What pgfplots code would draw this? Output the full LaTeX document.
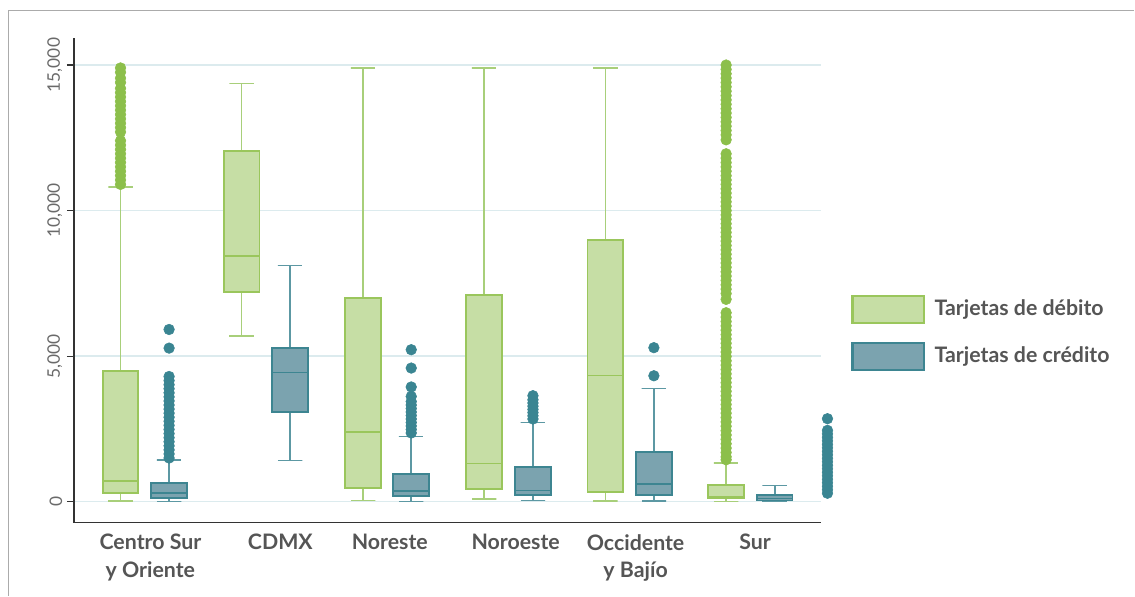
\documentclass[border=0pt]{standalone}
\usepackage{fontspec}
\setmainfont{Lato}
\usepackage{pgfplots}
\pgfplotsset{compat=1.18}

\definecolor{debfill}{HTML}{C6DEA5}
\definecolor{debline}{HTML}{9AC65C}
\definecolor{debwhisk}{HTML}{A8CF7A}
\definecolor{debdot}{HTML}{8CBF4B}
\definecolor{crefill}{HTML}{7BA3AF}
\definecolor{creline}{HTML}{3D8591}
\definecolor{crewhisk}{HTML}{5C98A3}
\definecolor{credot}{HTML}{3A8592}
\definecolor{gridc}{HTML}{DCEBEE}
\definecolor{labgray}{HTML}{555555}
\definecolor{tickgray}{HTML}{6A6A6A}
\definecolor{framegray}{HTML}{ABABAB}
\definecolor{axisc}{HTML}{333333}

\pgfplotsset{
  dw/.style={draw=debwhisk, line width=1.2pt, mark=none},
  db/.style={draw=debline, fill=debfill, line width=1.4pt, mark=none},
  dm/.style={draw=debline, line width=1pt, mark=none},
  dd/.style={only marks, mark=*, mark size=4pt, mark options={draw=debdot, fill=debdot, line width=0.4pt}},
  cw/.style={draw=crewhisk, line width=1.2pt, mark=none},
  cb/.style={draw=creline, fill=crefill, line width=1.4pt, mark=none},
  cm/.style={draw=creline, line width=1pt, mark=none},
  cd/.style={only marks, mark=*, mark size=4pt, mark options={draw=credot, fill=credot, line width=0.4pt}},
}

\begin{document}
\begin{tikzpicture}
\begin{scope}[x=0.75pt, y=0.75pt]
\path (0,0) rectangle (1135,596);
% outer frame (top and left edges)
\draw[framegray, line width=1.1pt] (8.5,0) -- (8.5,585.5) -- (1135,585.5);
\end{scope}

\begin{axis}[
  at={(55.5pt,54.75pt)}, anchor=south west,
  scale only axis, width=561pt, height=363.75pt,
  xmin=74, xmax=822, ymin=-721, ymax=15929,
  clip=false,
  axis x line*=bottom, axis y line*=left,
  axis line style={-, draw=axisc, line width=1.1pt},
  xtick={150.5,280.5,390,516,636,755.5},
  xticklabels={{Centro Sur\\y Oriente},{CDMX},{Noreste},{Noroeste},{Occidente\\y Bajío},{Sur}},
  xticklabel style={font=\fontsize{16}{20.5}\selectfont\bfseries, text=labgray, align=center},
  x tick style={draw=none},
  ytick={0,5000,10000,15000},
  scaled y ticks=false,
  yticklabel style={font=\fontsize{13}{15}\selectfont, text=tickgray, rotate=90, anchor=south},
  /pgf/number format/.cd, 1000 sep={,}, assume math mode=true, /pgfplots/.cd,
  tick align=outside, major tick length=5.25pt,
  y tick style={draw=axisc, line width=0.8pt},
  ymajorgrids, grid style={draw=gridc, line width=1.1pt},
]

% ---- Centro Sur y Oriente: debit (120.6) ----
\addplot[dw] coordinates {(108.35,20) (132.85,20) (120.6,20) (120.6,10810) (108.35,10810) (132.85,10810)};
\addplot[db] coordinates {(102.75,290) (138.45,290) (138.45,4500) (102.75,4500)} -- cycle;
\addplot[dm] coordinates {(102.75,710) (138.45,710)};
\addplot[dd] coordinates {(120.6,10900) (120.6,11050) (120.6,11200) (120.6,11350) (120.6,11500) (120.6,11650) (120.6,11800) (120.6,11950) (120.6,12100) (120.6,12250) (120.6,12400) (120.6,12700) (120.6,12850) (120.6,13000) (120.6,13150) (120.6,13300) (120.6,13450) (120.6,13600) (120.6,13750) (120.6,13900) (120.6,14050) (120.6,14200) (120.6,14400) (120.6,14550) (120.6,14750) (120.6,14900)};
% credit (169.2)
\addplot[cw] coordinates {(156.95,10) (181.45,10) (169.2,10) (169.2,1440) (156.95,1440) (181.45,1440)};
\addplot[cb] coordinates {(151.35,130) (187.05,130) (187.05,640) (151.35,640)} -- cycle;
\addplot[cm] coordinates {(151.35,300) (187.05,300)};
\addplot[cd] coordinates {(169.2,1500) (169.2,1640) (169.2,1780) (169.2,1920) (169.2,2060) (169.2,2200) (169.2,2340) (169.2,2480) (169.2,2620) (169.2,2760) (169.2,2900) (169.2,3040) (169.2,3180) (169.2,3320) (169.2,3460) (169.2,3600) (169.2,3740) (169.2,3880) (169.2,4020) (169.2,4160) (169.2,4300) (169.2,5275) (169.2,5915)};

% ---- CDMX ----
\addplot[dw] coordinates {(229.55,5700) (254.05,5700) (241.8,5700) (241.8,14370) (229.55,14370) (254.05,14370)};
\addplot[db] coordinates {(223.95,7190) (259.65,7190) (259.65,12060) (223.95,12060)} -- cycle;
\addplot[dm] coordinates {(223.95,8440) (259.65,8440)};
\addplot[cw] coordinates {(278.15,1420) (302.65,1420) (290.4,1420) (290.4,8115) (278.15,8115) (302.65,8115)};
\addplot[cb] coordinates {(272.55,3090) (308.25,3090) (308.25,5285) (272.55,5285)} -- cycle;
\addplot[cm] coordinates {(272.55,4435) (308.25,4435)};

% ---- Noreste ----
\addplot[dw] coordinates {(351.05,40) (375.55,40) (363.3,40) (363.3,14900) (351.05,14900) (375.55,14900)};
\addplot[db] coordinates {(345.45,455) (381.15,455) (381.15,7000) (345.45,7000)} -- cycle;
\addplot[dm] coordinates {(345.45,2395) (381.15,2395)};
\addplot[cw] coordinates {(399.25,12) (423.75,12) (411.5,12) (411.5,2240) (399.25,2240) (423.75,2240)};
\addplot[cb] coordinates {(393.65,185) (429.35,185) (429.35,960) (393.65,960)} -- cycle;
\addplot[cm] coordinates {(393.65,365) (429.35,365)};
\addplot[cd] coordinates {(411.5,2360) (411.5,2480) (411.5,2600) (411.5,2720) (411.5,2840) (411.5,2960) (411.5,3080) (411.5,3200) (411.5,3320) (411.5,3440) (411.5,3615) (411.5,3940) (411.5,4590) (411.5,5220)};

% ---- Noroeste ----
\addplot[dw] coordinates {(472.25,100) (496.75,100) (484.5,100) (484.5,14900) (472.25,14900) (496.75,14900)};
\addplot[db] coordinates {(466.65,450) (502.35,450) (502.35,7105) (466.65,7105)} -- cycle;
\addplot[dm] coordinates {(466.65,1300) (502.35,1300)};
\addplot[cw] coordinates {(521.05,45) (545.55,45) (533.3,45) (533.3,2725) (521.05,2725) (545.55,2725)};
\addplot[cb] coordinates {(515.45,215) (551.15,215) (551.15,1190) (515.45,1190)} -- cycle;
\addplot[cm] coordinates {(515.45,378) (551.15,378)};
\addplot[cd] coordinates {(533.3,2840) (533.3,2950) (533.3,3060) (533.3,3170) (533.3,3280) (533.3,3390) (533.3,3500) (533.3,3640)};

% ---- Occidente y Bajio ----
\addplot[dw] coordinates {(593.45,25) (617.95,25) (605.7,25) (605.7,14900) (593.45,14900) (617.95,14900)};
\addplot[db] coordinates {(587.85,345) (623.55,345) (623.55,8995) (587.85,8995)} -- cycle;
\addplot[dm] coordinates {(587.85,4325) (623.55,4325)};
\addplot[cw] coordinates {(642.05,25) (666.55,25) (654.3,25) (654.3,3890) (642.05,3890) (666.55,3890)};
\addplot[cb] coordinates {(636.45,240) (672.15,240) (672.15,1693) (636.45,1693)} -- cycle;
\addplot[cm] coordinates {(636.45,607) (672.15,607)};
\addplot[cd] coordinates {(654.3,4325) (654.3,5290)};

% ---- Sur ----
\addplot[dw] coordinates {(714.35,0) (738.85,0) (726.6,0) (726.6,1330) (714.35,1330) (738.85,1330)};
\addplot[db] coordinates {(708.75,110) (744.45,110) (744.45,570) (708.75,570)} -- cycle;
\addplot[dm] coordinates {(708.75,165) (744.45,165)};
\addplot[dd] coordinates {(726.6,15000) (726.6,14850) (726.6,14700) (726.6,14550) (726.6,14400) (726.6,14250) (726.6,14100) (726.6,13950) (726.6,13800) (726.6,13650) (726.6,13500) (726.6,13350) (726.6,13200) (726.6,13050) (726.6,12900) (726.6,12750) (726.6,12600) (726.6,12430)
 (726.6,11950) (726.6,11800) (726.6,11650) (726.6,11500) (726.6,11350) (726.6,11200) (726.6,11050) (726.6,10900) (726.6,10750) (726.6,10600) (726.6,10450) (726.6,10300) (726.6,10150) (726.6,10000) (726.6,9850) (726.6,9700) (726.6,9550) (726.6,9400) (726.6,9250) (726.6,9100) (726.6,8950) (726.6,8800) (726.6,8650) (726.6,8500) (726.6,8350) (726.6,8200) (726.6,8050) (726.6,7900) (726.6,7750) (726.6,7600) (726.6,7450) (726.6,7300) (726.6,7150) (726.6,6950)
 (726.6,6490) (726.6,6340) (726.6,6190) (726.6,6040) (726.6,5890) (726.6,5740) (726.6,5590) (726.6,5440) (726.6,5290) (726.6,5140) (726.6,4990) (726.6,4840) (726.6,4690) (726.6,4540) (726.6,4390) (726.6,4240) (726.6,4090) (726.6,3940) (726.6,3790) (726.6,3640) (726.6,3490) (726.6,3340) (726.6,3190) (726.6,3040) (726.6,2890) (726.6,2740) (726.6,2590) (726.6,2440) (726.6,2290) (726.6,2140) (726.6,1990) (726.6,1840) (726.6,1690) (726.6,1540) (726.6,1440)};
\addplot[cw] coordinates {(762.95,0) (787.45,0) (775.2,0) (775.2,550) (762.95,550) (787.45,550)};
\addplot[cb] coordinates {(757.35,40) (793.05,40) (793.05,225) (757.35,225)} -- cycle;
\addplot[cm] coordinates {(757.35,110) (793.05,110)};

% points past the last category
\addplot[cd] coordinates {(828,2850) (828,2450) (828,2330) (828,2210) (828,2090) (828,1970) (828,1850) (828,1730) (828,1610) (828,1490) (828,1370) (828,1250) (828,1130) (828,1010) (828,890) (828,770) (828,650) (828,530) (828,410) (828,290)};
\end{axis}

\begin{scope}[x=0.75pt, y=0.75pt]
% legend
\draw[draw=debline, fill=debfill, line width=1.6pt] (853,273) rectangle (925,300);
\draw[draw=creline, fill=crefill, line width=1.6pt] (853,226) rectangle (925,253);
\node[anchor=west, inner sep=0pt, text=labgray, font=\fontsize{16}{18}\selectfont\bfseries] at (935,286.5) {Tarjetas de débito};
\node[anchor=west, inner sep=0pt, text=labgray, font=\fontsize{16}{18}\selectfont\bfseries] at (935,239.5) {Tarjetas de crédito};
\end{scope}
\end{tikzpicture}
\end{document}
